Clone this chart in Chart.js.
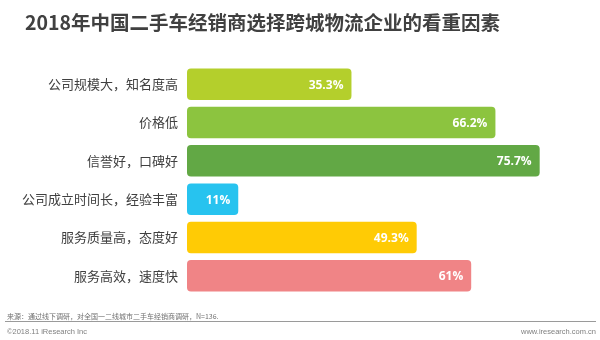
<!DOCTYPE html>
<html>
<head>
<meta charset="utf-8">
<script src="https://cdn.jsdelivr.net/npm/chart.js@4/dist/chart.umd.min.js"></script>
<style>
  html, body { margin: 0; padding: 0; background: #ffffff; }
  #wrap { position: relative; width: 600px; height: 340px; overflow: hidden; }
  #chart { position: absolute; left: 0; top: 0; }
  .txt { position: absolute; font-family: "Noto Sans CJK SC", "Noto Sans", sans-serif; white-space: nowrap; }
  #title { left: 25px; top: 0; height: 44px; line-height: 44px; font-size: 19.5px; font-weight: 700; color: #404040; }
  #source { left: 7px; top: 311px; line-height: 10px; font-size: 7px; color: #707070; }
  #rule { position: absolute; left: 5px; width: 591px; top: 321px; height: 1px; background: #9a9a9a; }
  #copy { left: 7px; top: 327px; line-height: 10px; font-size: 7.5px; color: #808080; font-family: "Liberation Sans", "Noto Sans", sans-serif; }
  #site { right: 4px; top: 327px; line-height: 10px; font-size: 7.5px; color: #808080; font-family: "Liberation Sans", "Noto Sans", sans-serif; }
</style>
</head>
<body>
<div id="wrap">
  <canvas id="chart" width="600" height="340"></canvas>
  <div id="title" class="txt">2018年中国二手车经销商选择跨城物流企业的看重因素</div>
  <div id="source" class="txt">来源：通过线下调研，对全国一二线城市二手车经销商调研，N=136.</div>
  <div id="rule"></div>
  <div id="copy" class="txt">©2018.11 iResearch Inc</div>
  <div id="site" class="txt">www.iresearch.com.cn</div>
</div>
<script>
const categories = ["公司规模大，知名度高", "价格低", "信誉好，口碑好", "公司成立时间长，经验丰富", "服务质量高，态度好", "服务高效，速度快"];
const values = [35.3, 66.2, 75.7, 11, 49.3, 61];
const valueLabels = ["35.3%", "66.2%", "75.7%", "11%", "49.3%", "61%"];
const barColors = ["#b4cf2c", "#8cc43f", "#62a845", "#27c3ef", "#ffcb05", "#f08486"];

const valueLabelPlugin = {
  id: 'valueLabels',
  afterDatasetsDraw(chart) {
    const ctx = chart.ctx;
    const meta = chart.getDatasetMeta(0);
    ctx.save();
    ctx.font = 'bold 12px "Open Sans", "Noto Sans", sans-serif';
    ctx.fillStyle = '#ffffff';
    ctx.textAlign = 'right';
    ctx.textBaseline = 'middle';
    meta.data.forEach((bar, i) => {
      ctx.fillText(valueLabels[i], bar.x - 8, bar.y + 1);
    });
    ctx.restore();
  }
};

new Chart(document.getElementById('chart'), {
  type: 'bar',
  data: {
    labels: categories,
    datasets: [{
      data: values,
      backgroundColor: barColors,
      borderRadius: 4,
      borderSkipped: false,
      barPercentage: 0.82,
      categoryPercentage: 1.0
    }]
  },
  options: {
    indexAxis: 'y',
    responsive: false,
    animation: false,
    layout: { padding: { top: 65, bottom: 45, left: 0, right: 10 } },
    plugins: { legend: { display: false }, tooltip: { enabled: false } },
    scales: {
      x: { display: false, min: 0, max: 86.5 },
      y: {
        grid: { display: false, drawTicks: false },
        border: { display: false },
        ticks: {
          color: '#404040',
          padding: 9,
          font: { family: '"Noto Sans CJK SC", "Noto Sans", sans-serif', size: 13 }
        },
        afterFit(scale) { scale.width = 187; }
      }
    }
  },
  plugins: [valueLabelPlugin]
});
</script>
</body>
</html>
